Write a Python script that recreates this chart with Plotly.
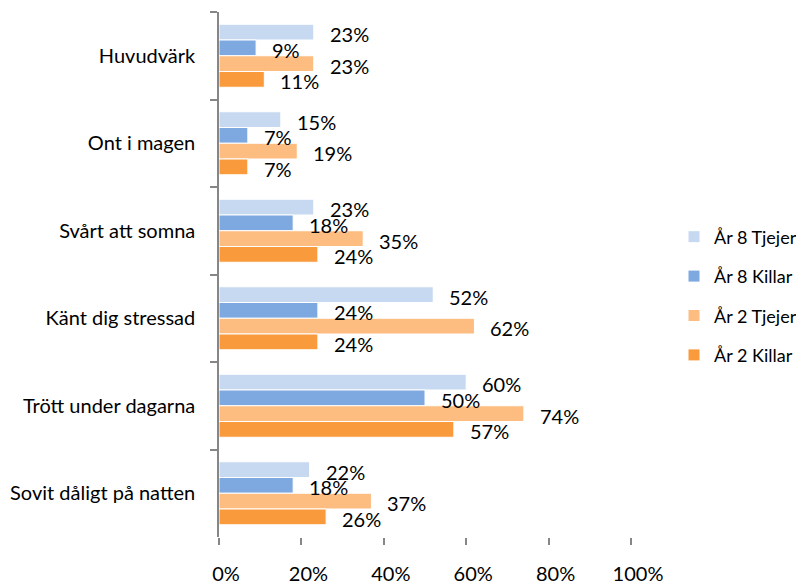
import plotly.graph_objects as go

categories = ["Huvudvärk", "Ont i magen", "Svårt att somna", "Känt dig stressad",
              "Trött under dagarna", "Sovit dåligt på natten"]
series_names = ["År 8 Tjejer", "År 8 Killar", "År 2 Tjejer", "År 2 Killar"]
ar8_tjejer = [23, 15, 23, 52, 60, 22]
ar8_killar = [9, 7, 18, 24, 50, 18]
ar2_tjejer = [23, 19, 35, 62, 74, 37]
ar2_killar = [11, 7, 24, 24, 57, 26]
x_ticks = [0, 20, 40, 60, 80, 100]

series_values = [ar8_tjejer, ar8_killar, ar2_tjejer, ar2_killar]
colors = ["#C6D9F1", "#7DA8E0", "#FDBD81", "#F99A3C"]

FONT = "Lato"
FS = 20

# page has an 8px body margin; figure is sized to fill the remaining viewport
W, H = 796, 576

fig = go.Figure()
for i, (name, vals, col) in enumerate(zip(series_names, series_values, colors)):
    fig.add_trace(go.Bar(
        y=categories, x=vals, name=name, orientation="h",
        marker=dict(color=col, line=dict(color="white", width=1)),
        legendgroup=name, hoverinfo="x+name",
    ))

bar_h = 15.75
annotations = []
for i, vals in enumerate(series_values):
    for cat, v in zip(categories, vals):
        annotations.append(dict(
            x=v, y=cat, xref="x", yref="y", text=f"{v}%", showarrow=False,
            xanchor="left", yanchor="middle", xshift=14,
            yshift=-(i - 1.5) * bar_h - 2,
            font=dict(family=FONT, size=FS, color="black"),
        ))

fig.update_layout(
    width=W, height=H,
    margin=dict(l=211, r=173, t=4, b=47, autoexpand=False),
    paper_bgcolor="white", plot_bgcolor="white",
    barmode="group", bargap=0.28, bargroupgap=0,
    font=dict(family=FONT, size=FS, color="black"),
    annotations=annotations,
    legend=dict(xref="container", yref="container",
                x=666 / W, xanchor="left", y=0.5, yanchor="middle",
                traceorder="grouped", tracegroupgap=13,
                font=dict(family=FONT, size=18, color="black"),
                itemwidth=30),
    showlegend=True,
)
fig.update_yaxes(
    autorange="reversed", type="category", automargin=False,
    showline=True, linecolor="#868686", linewidth=1.5,
    ticks="outside", tickson="boundaries", ticklen=7, tickcolor="#868686", tickwidth=1.5,
    showgrid=False, zeroline=False, ticklabelstandoff=18,
)
fig.update_xaxes(
    range=[0, 100], tickvals=x_ticks, ticktext=[f"{t}%" for t in x_ticks],
    automargin=False,
    showline=False, showgrid=False, zeroline=False,
    ticks="outside", ticklen=7, tickcolor="#868686", tickwidth=1.5,
    ticklabelstandoff=12, ticklabelshift=7,
)

fig.write_html("out.html")
